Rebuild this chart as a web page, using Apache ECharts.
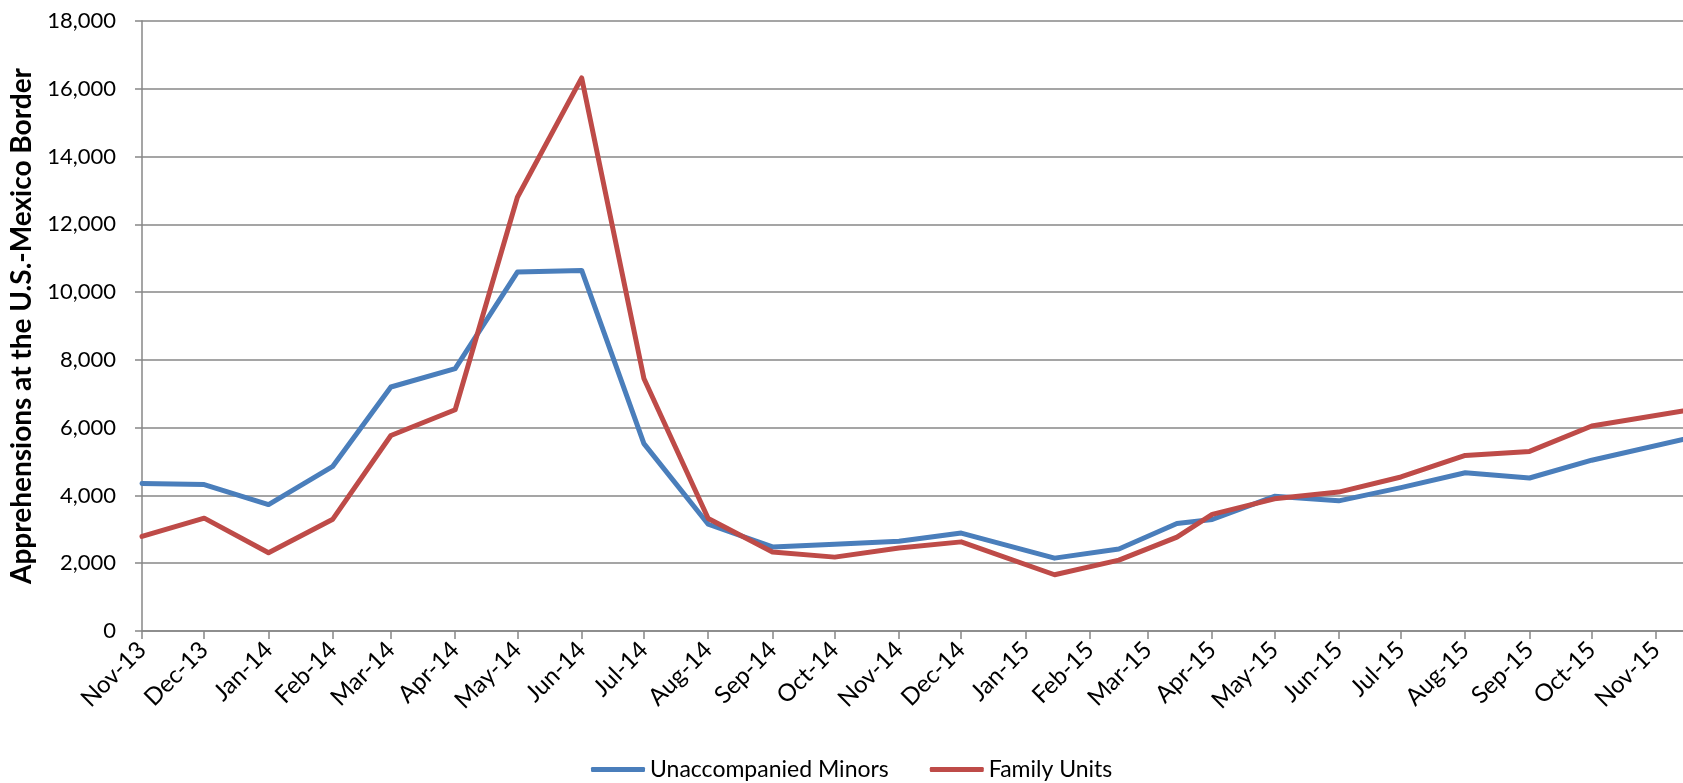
<!DOCTYPE html>
<html>
<head>
<meta charset="utf-8">
<style>
  html, body { margin: 0; padding: 0; background: #fff; }
  #chart { width: 1683px; height: 783px; }
</style>
<script src="https://cdn.jsdelivr.net/npm/echarts@6/dist/echarts.min.js"></script>
</head>
<body>
<div id="chart"></div>
<script>
// Reporting dates of each observation (UTC, yyyy-mm-dd)
const dates = [
  '2013-11-01', '2013-12-01', '2014-01-01', '2014-02-01', '2014-03-01', '2014-04-01',
  '2014-05-01', '2014-06-01', '2014-07-01', '2014-08-01', '2014-09-01', '2014-10-01',
  '2014-11-01', '2014-12-01', '2015-01-15', '2015-02-15', '2015-03-15', '2015-04-01',
  '2015-05-01', '2015-06-01', '2015-07-01', '2015-08-01', '2015-09-01', '2015-10-01',
  '2015-11-14'
];

// Apprehensions of unaccompanied minors
const minors = [
  4350, 4320, 3730, 4860, 7200, 7740,
  10590, 10640, 5530, 3150, 2480, 2560,
  2650, 2890, 2150, 2420, 3170, 3290,
  3975, 3840, 4230, 4670, 4515, 5040,
  5650
];

// Apprehensions of family units
const family = [
  2790, 3330, 2310, 3300, 5770, 6530,
  12800, 16320, 7450, 3320, 2330, 2180,
  2450, 2630, 1660, 2090, 2770, 3440,
  3900, 4100, 4545, 5180, 5300, 6050,
  6490
];

const monthNames = ['Jan', 'Feb', 'Mar', 'Apr', 'May', 'Jun', 'Jul', 'Aug', 'Sep', 'Oct', 'Nov', 'Dec'];
const axisStart = '2013-11-01';
const axisEnd = '2015-11-14';
const yMax = 18000;
const yStep = 2000;

const DAY = 24 * 3600 * 1000;
const toTime = s => Date.parse(s + 'T00:00:00Z');
const pairs = vals => dates.map((d, i) => [toTime(d), vals[i]]);

const FONT = 'Lato, "Open Sans", sans-serif';
const GRID = '#878787';
const BLUE = '#4A7EBB';
const RED = '#BE4B48';

const chart = echarts.init(document.getElementById('chart'), null, { renderer: 'canvas' });

chart.setOption({
  useUTC: true,
  animation: false,
  backgroundColor: '#ffffff',
  textStyle: { fontFamily: FONT, color: '#000' },
  grid: { left: 142, right: 0, top: 21, bottom: 152, containLabel: false },
  legend: {
    left: 586,
    top: 753,
    icon: 'roundRect',
    itemWidth: 54,
    itemHeight: 5,
    itemGap: 41,
    textStyle: { fontFamily: FONT, fontSize: 23, color: '#000' },
    data: ['Unaccompanied Minors', 'Family Units']
  },
  xAxis: {
    type: 'time',
    min: toTime(axisStart),
    max: toTime(axisEnd),
    minInterval: 28 * DAY,
    maxInterval: 31 * DAY,
    splitNumber: 25,
    axisLine: { show: true, lineStyle: { color: GRID, width: 1.5 } },
    axisTick: { show: true, length: 8, lineStyle: { color: GRID, width: 1.5 } },
    splitLine: { show: false },
    axisLabel: {
      rotate: 45,
      margin: 15,
      fontFamily: FONT,
      fontSize: 24,
      color: '#000',
      formatter: function (value) {
        const d = new Date(value);
        if (d.getUTCDate() !== 1) return '';
        return monthNames[d.getUTCMonth()] + '-' + String(d.getUTCFullYear()).slice(2);
      }
    }
  },
  yAxis: {
    type: 'value',
    min: 0,
    max: yMax,
    interval: yStep,
    name: 'Apprehensions at the U.S.-Mexico Border',
    nameLocation: 'middle',
    nameGap: 105,
    nameTextStyle: { fontFamily: FONT, fontSize: 28, fontWeight: 'bold', color: '#000' },
    axisLine: { show: true, lineStyle: { color: GRID, width: 1.5 } },
    axisTick: { show: true, length: 7, lineStyle: { color: GRID, width: 1.5 } },
    splitLine: { show: true, lineStyle: { color: GRID, width: 1.5 } },
    axisLabel: {
      margin: 26,
      fontFamily: FONT,
      fontSize: 22,
      color: '#000',
      formatter: v => v.toLocaleString('en-US')
    }
  },
  series: [
    {
      name: 'Unaccompanied Minors',
      type: 'line',
      data: pairs(minors),
      symbol: 'none',
      color: BLUE,
      itemStyle: { color: BLUE },
      lineStyle: { color: BLUE, width: 5, join: 'round', cap: 'round' }
    },
    {
      name: 'Family Units',
      type: 'line',
      data: pairs(family),
      symbol: 'none',
      color: RED,
      itemStyle: { color: RED },
      lineStyle: { color: RED, width: 5, join: 'round', cap: 'round' }
    }
  ]
});
</script>
</body>
</html>
